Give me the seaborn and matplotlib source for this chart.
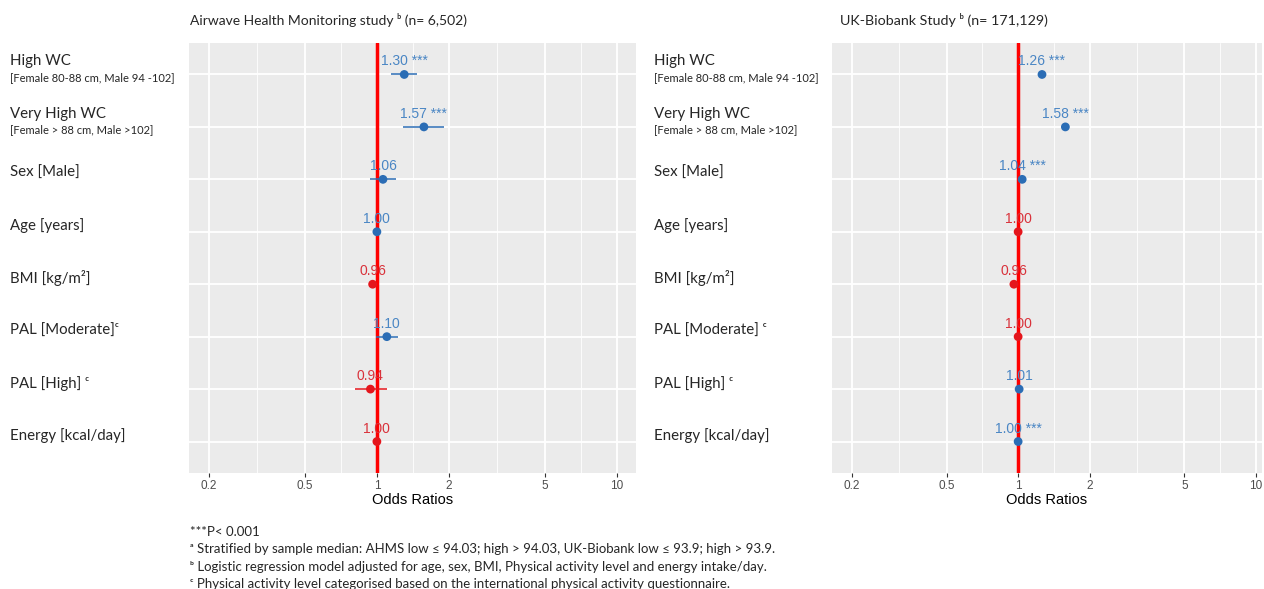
import numpy as np
import pandas as pd
import matplotlib
matplotlib.use("Agg")
import matplotlib.pyplot as plt
from matplotlib.ticker import NullFormatter
import seaborn as sns

# row labels (top to bottom)
row_main = ["High WC", "Very High WC", "Sex [Male]", "Age [years]", "BMI [kg/m²]",
            "PAL [Moderate]ᶜ", "PAL [High] ᶜ", "Energy [kcal/day]"]
row_main_r = ["High WC", "Very High WC", "Sex [Male]", "Age [years]", "BMI [kg/m²]",
              "PAL [Moderate] ᶜ", "PAL [High] ᶜ", "Energy [kcal/day]"]
row_sub = ["[Female 80-88 cm, Male 94 -102]", "[Female > 88 cm, Male >102]",
           "", "", "", "", "", ""]

# Airwave Health Monitoring study
ahms_or = [1.30, 1.57, 1.06, 1.00, 0.96, 1.10, 0.94, 1.00]
ahms_lo = [1.14, 1.28, 0.94, 0.99, 0.95, 0.99, 0.81, 0.99]
ahms_hi = [1.47, 1.90, 1.20, 1.01, 0.97, 1.22, 1.10, 1.01]
ahms_sig = ["***", "***", "", "", "", "", "", ""]
ahms_dir = ["pos", "pos", "pos", "pos", "neg", "pos", "neg", "neg"]

# UK-Biobank study
ukb_or = [1.26, 1.58, 1.04, 1.00, 0.96, 1.00, 1.01, 1.00]
ukb_lo = [1.24, 1.55, 1.03, 0.99, 0.95, 0.99, 1.00, 1.00]
ukb_hi = [1.28, 1.61, 1.05, 1.01, 0.97, 1.01, 1.02, 1.00]
ukb_sig = ["***", "***", "***", "", "", "", "", "***"]
ukb_dir = ["pos", "pos", "pos", "neg", "neg", "neg", "pos", "pos"]

x_major = [0.2, 0.5, 1, 2, 5, 10]
x_major_lbl = ["0.2", "0.5", "1", "2", "5", "10"]

footnotes = [
    "***P< 0.001",
    "ᵃ Stratified by sample median: AHMS low ≤ 94.03; high > 94.03, UK-Biobank low ≤ 93.9; high > 93.9.",
    "ᵇ Logistic regression model adjusted for age, sex, BMI, Physical activity level and energy intake/day.",
    "ᶜ Physical activity level categorised based on the international physical activity questionnaire.",
]

pt_col = {"pos": "#2B6DB5", "neg": "#E4161C"}
lbl_col = {"pos": "#4A86C4", "neg": "#D9323B"}

sns.set_theme(style="darkgrid", rc={"axes.facecolor": "#EBEBEB", "grid.color": "white"})
plt.rcParams["font.family"] = ["Liberation Sans", "DejaVu Sans"]
CAL = ["Lato", "DejaVu Sans"]

W, H = 1264, 589
fig = plt.figure(figsize=(W / 100, H / 100), dpi=100)
top_px, bot_px = 43, 473
axL = fig.add_axes([189 / W, 1 - bot_px / H, 447 / W, (bot_px - top_px) / H])
axR = fig.add_axes([832 / W, 1 - bot_px / H, 430 / W, (bot_px - top_px) / H])


def forest(ax, orv, lo, hi, sig, dirn, xmax):
    df = pd.DataFrame({"row": np.arange(len(orv)), "or": orv, "lo": lo, "hi": hi,
                       "sig": sig, "dir": dirn})
    ax.set_xscale("log")
    minor = [np.sqrt(a * b) for a, b in zip(x_major[:-1], x_major[1:])]
    ax.set_xticks(x_major)
    ax.set_xticklabels(x_major_lbl)
    ax.set_xticks(minor, minor=True)
    ax.xaxis.set_minor_formatter(NullFormatter())
    ax.set_xlim(0.165, xmax)
    ax.set_yticks(df["row"])
    ax.set_yticklabels([])
    ax.set_ylim(len(orv) - 0.4, -0.6)
    ax.grid(which="major", color="white", lw=1.3)
    ax.grid(which="minor", axis="x", color="white", lw=0.6)
    ax.set_axisbelow(True)

    ax.axvline(1, color="#FF0000", lw=2.5, zorder=2)
    ax.hlines(df["row"], df["lo"], df["hi"], colors=[pt_col[d] for d in df["dir"]],
              lw=1.1, zorder=3)
    sns.scatterplot(data=df, x="or", y="row", hue="dir", palette=pt_col, s=40,
                    edgecolor="none", legend=False, ax=ax, zorder=4)
    for _, r in df.iterrows():
        txt = f"{r['or']:.2f} {r['sig']}" if r["sig"] else f"{r['or']:.2f}"
        ax.annotate(txt, (r["or"], r["row"]), xytext=(0, 6.5), textcoords="offset points",
                    ha="center", va="baseline", fontsize=10, color=lbl_col[r["dir"]],
                    zorder=5)

    for s in ax.spines.values():
        s.set_visible(False)
    ax.tick_params(axis="x", which="major", length=3, color="#333333", width=0.8,
                   labelsize=8.5, labelcolor="#4D4D4D", pad=2, bottom=True)
    ax.tick_params(axis="x", which="minor", length=0)
    ax.tick_params(axis="y", length=0)
    ax.set_xlabel("Odds Ratios", fontsize=10.5, color="black", labelpad=1)
    ax.set_ylabel("")


forest(axL, ahms_or, ahms_lo, ahms_hi, ahms_sig, ahms_dir, 12.0)
forest(axR, ukb_or, ukb_lo, ukb_hi, ukb_sig, ukb_dir, 10.6)

# row labels drawn as figure text
step = (bot_px - top_px) / 8.2
for lx, names in [(10, row_main), (654, row_main_r)]:
    for i, name in enumerate(names):
        yrow = top_px + (i + 0.6) * step
        if row_sub[i]:
            fig.text(lx / W, 1 - (yrow - 13) / H, name, family=CAL, fontsize=10.8,
                     va="center", ha="left")
            fig.text(lx / W, 1 - (yrow + 3) / H, row_sub[i], family=CAL, fontsize=8,
                     va="center", ha="left")
        else:
            fig.text(lx / W, 1 - (yrow - 6) / H, name, family=CAL, fontsize=10.8,
                     va="center", ha="left")

fig.text(190 / W, 1 - 20 / H, "Airwave Health Monitoring study ᵇ (n= 6,502)", family=CAL,
         fontsize=10, va="center", ha="left")
fig.text(840 / W, 1 - 20 / H, "UK-Biobank Study ᵇ (n= 171,129)", family=CAL,
         fontsize=10.3, va="center", ha="left")

for k, line in enumerate(footnotes):
    fig.text(190 / W, 1 - (532 + k * 17.3) / H, line, family=CAL, fontsize=9.5,
             va="center", ha="left")

fig.savefig("out.png", dpi=100, facecolor="white")
